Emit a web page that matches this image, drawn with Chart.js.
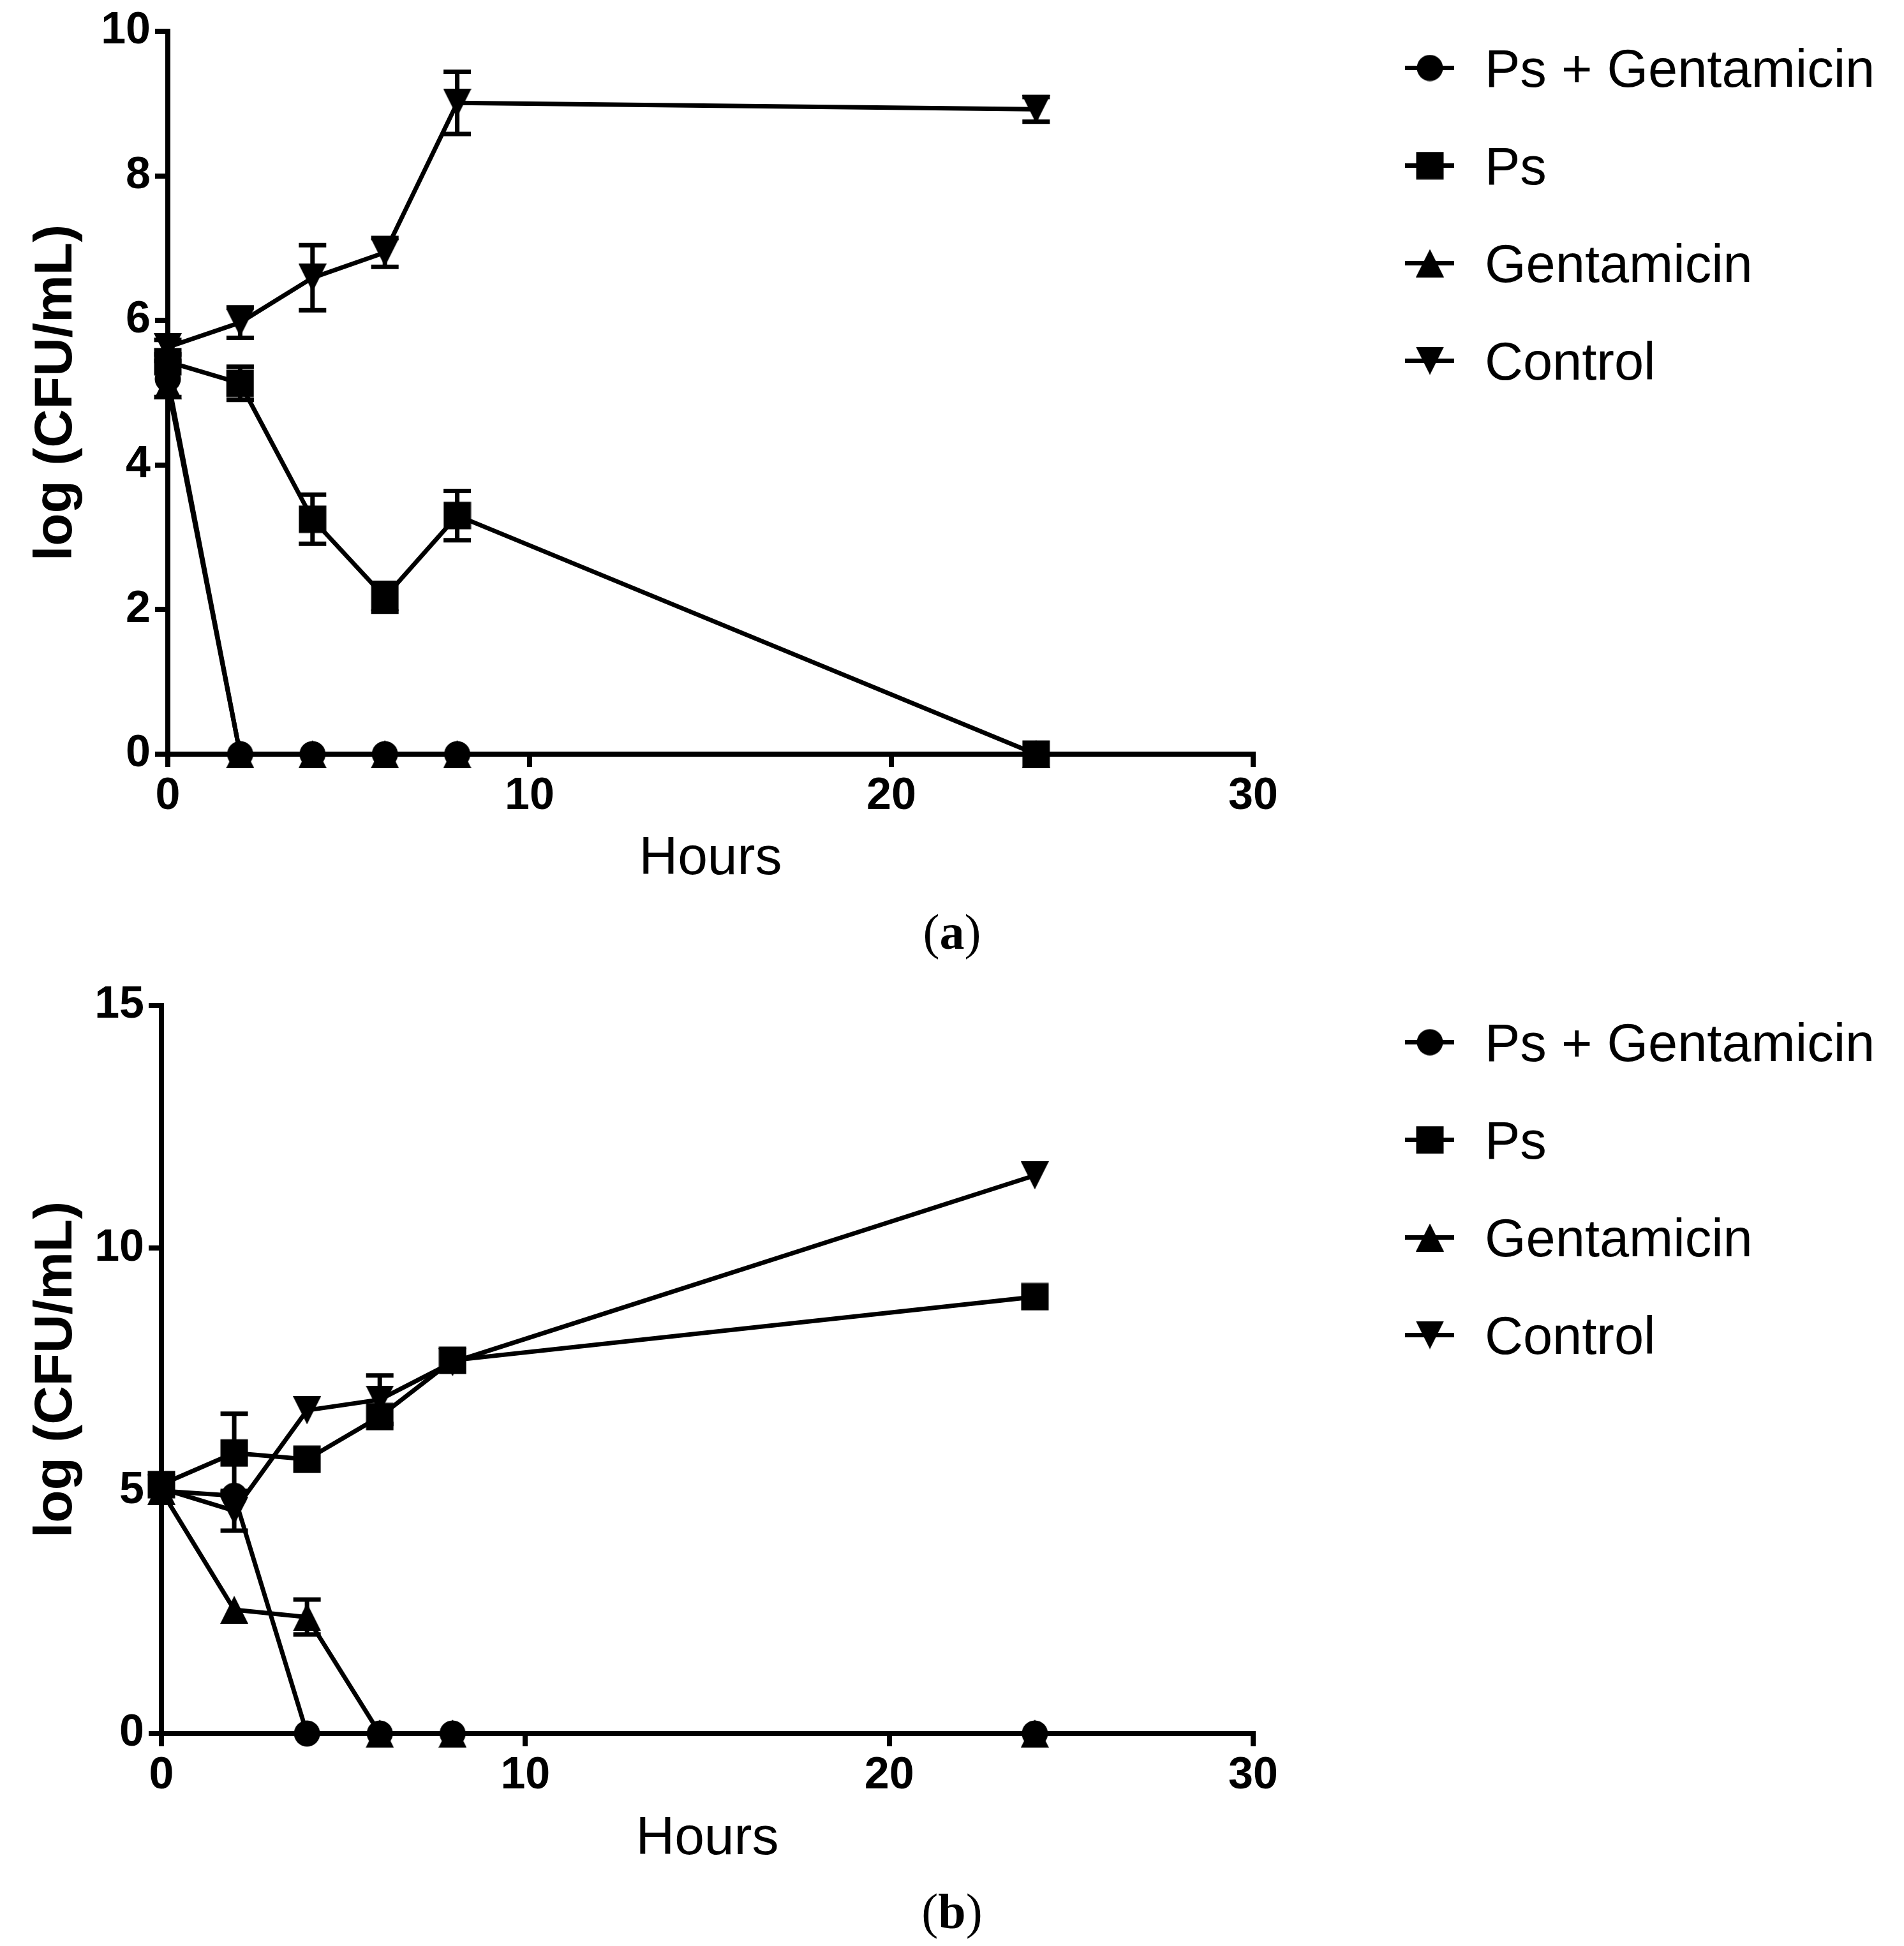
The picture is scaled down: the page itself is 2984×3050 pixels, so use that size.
<!DOCTYPE html>
<html>
<head>
<meta charset="utf-8">
<script src="https://cdn.jsdelivr.net/npm/chart.js@4.4.1/dist/chart.umd.min.js"></script>
<style>
  html, body { margin: 0; padding: 0; background: #fff; }
  body { width: 2984px; height: 3050px; position: relative; overflow: hidden; }
  canvas { position: absolute; left: 0; display: block; }
  #cA { top: 0; }
  #cB { top: 1525px; }
</style>
</head>
<body>
<canvas id="cA" width="2984" height="1525"></canvas>
<canvas id="cB" width="2984" height="1525"></canvas>
<script>
// ---------- DATA ----------
const hours = [0, 2, 4, 6, 8, 24];
const seriesNames = ['Ps + Gentamicin', 'Ps', 'Gentamicin', 'Control'];
const xTicks = [0, 10, 20, 30];
const yTicksA = [0, 2, 4, 6, 8, 10];
const yTicksB = [0, 5, 10, 15];
const xTitle = 'Hours';
const yTitle = 'log (CFU/mL)';
const captionA = 'a';
const captionB = 'b';

// Panel (a)
const psGentA      = [5.19, 0, 0, 0, 0, 0];
const psGentErrA   = [0.25, 0, 0, 0, 0, 0];
const psA          = [5.43, 5.13, 3.25, 2.17, 3.30, 0];
const psErrA       = [0, 0.23, 0.34, 0.20, 0.34, 0];
const gentA        = [5.10, 0, 0, 0, 0, 0];
const gentErrA     = [0, 0, 0, 0, 0, 0];
const controlA     = [5.63, 5.97, 6.59, 6.94, 9.01, 8.92];
const controlErrA  = [0.10, 0.21, 0.45, 0.20, 0.43, 0.17];

// Panel (b)
const psGentB      = [5.00, 4.90, 0, 0, 0, 0];
const psGentErrB   = [0, 0, 0, 0, 0, 0];
const psB          = [5.13, 5.78, 5.65, 6.53, 7.69, 9.00];
const psErrB       = [0, 0.81, 0, 0, 0, 0];
const gentB        = [5.00, 2.55, 2.40, 0, 0, 0];
const gentErrB     = [0, 0, 0.36, 0, 0, 0];
const controlB     = [5.05, 4.59, 6.66, 6.88, 7.65, 11.50];
const controlErrB  = [0, 0.41, 0, 0.50, 0, 0];

// ---------- MARKERS ----------
function makeMarker(kind) {
  const c = document.createElement('canvas');
  const w = kind === 'circle' ? 42 : 44;
  const h = kind === 'circle' ? 42 : 44;
  c.width = w; c.height = h;
  const g = c.getContext('2d');
  g.fillStyle = '#000';
  g.beginPath();
  if (kind === 'circle') {
    g.arc(w / 2, h / 2, 20.5, 0, Math.PI * 2);
  } else if (kind === 'square') {
    g.rect(0.5, 0.5, w - 1, h - 1);
  } else if (kind === 'up') {
    g.moveTo(w / 2, 0); g.lineTo(w, h); g.lineTo(0, h); g.closePath();
  } else {
    g.moveTo(0, 0); g.lineTo(w, 0); g.lineTo(w / 2, h); g.closePath();
  }
  g.fill();
  return c;
}
const markers = [makeMarker('circle'), makeMarker('square'), makeMarker('up'), makeMarker('down')];
const drawOrder = [2, 1, 3, 4]; // lower = on top

const FONT_SANS = "'Liberation Sans', Arial, Helvetica, sans-serif";
const FONT_SERIF = "'Liberation Serif', 'Times New Roman', serif";

// ---------- PLUGINS ----------
const errorBarPlugin = {
  id: 'errorBars',
  afterDatasetsDraw(chart) {
    const ctx = chart.ctx;
    const xs = chart.scales.x, ys = chart.scales.y;
    ctx.save();
    ctx.strokeStyle = '#000';
    ctx.lineWidth = 7;
    ctx.lineCap = 'butt';
    chart.data.datasets.forEach((ds) => {
      const errs = ds.errorBars || [];
      ds.data.forEach((pt, i) => {
        const e = errs[i];
        if (!e) return;
        const px = xs.getPixelForValue(pt.x);
        const yTop = ys.getPixelForValue(pt.y + e);
        const yBot = ys.getPixelForValue(pt.y - e);
        const half = 21.5;
        ctx.beginPath();
        ctx.moveTo(px, yTop); ctx.lineTo(px, yBot);
        ctx.moveTo(px - half, yTop); ctx.lineTo(px + half, yTop);
        ctx.moveTo(px - half, yBot); ctx.lineTo(px + half, yBot);
        ctx.stroke();
      });
    });
    ctx.restore();
  }
};

const legendCaptionPlugin = {
  id: 'legendCaption',
  afterDraw(chart, args, opts) {
    const ctx = chart.ctx;
    const area = chart.chartArea;
    ctx.save();
    // legend
    const lineX1 = 2202, lineX2 = 2279, markX = 2241, textX = 2327;
    const firstRow = area.top + 57.5, rowGap = 153;
    ctx.font = '83px ' + FONT_SANS;
    ctx.fillStyle = '#000';
    ctx.textBaseline = 'alphabetic';
    ctx.textAlign = 'left';
    chart.data.datasets.forEach((ds, i) => {
      const y = firstRow + i * rowGap;
      ctx.strokeStyle = '#000';
      ctx.lineWidth = 7;
      ctx.beginPath();
      ctx.moveTo(lineX1, y); ctx.lineTo(lineX2, y);
      ctx.stroke();
      const m = ds.pointStyle;
      ctx.drawImage(m, markX - m.width / 2, y - m.height / 2);
      ctx.fillText(ds.label, textX, y + 83 * 0.358);
    });
    // caption "(a)" / "(b)"
    const cy = area.bottom + 285;
    const cx = 1492;
    const normal = '78px ' + FONT_SERIF;
    const bold = 'bold 78px ' + FONT_SERIF;
    ctx.font = normal; const wL = ctx.measureText('(').width; const wR = ctx.measureText(')').width;
    ctx.font = bold; const wM = ctx.measureText(opts.caption).width;
    const total = wL + wM + wR;
    let x0 = cx - total / 2;
    ctx.textBaseline = 'middle';
    ctx.font = normal; ctx.fillText('(', x0, cy);
    ctx.font = bold; ctx.fillText(opts.caption, x0 + wL, cy);
    ctx.font = normal; ctx.fillText(')', x0 + wL + wM, cy);
    ctx.restore();
  }
};

// ---------- BUILD ----------
function pts(vals) { return hours.map((h, i) => ({ x: h, y: vals[i] })); }

function makeChart(canvasId, series, errs, yTicks, geom, caption) {
  const datasets = series.map((vals, i) => ({
    label: seriesNames[i],
    data: pts(vals),
    errorBars: errs[i],
    borderColor: '#000',
    backgroundColor: '#000',
    borderWidth: 7,
    tension: 0,
    pointStyle: markers[i],
    pointRadius: 22,
    pointHoverRadius: 22,
    clip: false,
    order: drawOrder[i]
  }));
  return new Chart(document.getElementById(canvasId), {
    type: 'line',
    data: { datasets },
    options: {
      responsive: false,
      devicePixelRatio: 1,
      animation: false,
      events: [],
      layout: { padding: { left: geom.padLeft, right: geom.padRight, top: geom.padTop, bottom: geom.padBottom } },
      plugins: {
        legend: { display: false },
        tooltip: { enabled: false },
        legendCaption: { caption }
      },
      scales: {
        x: {
          type: 'linear',
          min: xTicks[0], max: xTicks[xTicks.length - 1],
          afterBuildTicks: s => { s.ticks = xTicks.map(v => ({ value: v })); },
          afterFit: s => { s.height = geom.xH; },
          border: { display: true, color: '#000', width: 8 },
          grid: { drawOnChartArea: false, drawTicks: true, tickLength: 20, tickWidth: 8, tickColor: '#000', lineWidth: 8, color: '#000' },
          ticks: { color: '#000', padding: 5, maxRotation: 0, font: { family: FONT_SANS, size: 70, weight: 'bold' } },
          title: { display: true, text: xTitle, color: '#000', padding: { top: 0, bottom: 0 }, font: { family: FONT_SANS, size: 84, weight: 'normal' } }
        },
        y: {
          type: 'linear',
          min: yTicks[0], max: yTicks[yTicks.length - 1],
          afterBuildTicks: s => { s.ticks = yTicks.map(v => ({ value: v })); },
          afterFit: s => { s.width = geom.yW; },
          border: { display: true, color: '#000', width: 8 },
          grid: { drawOnChartArea: false, drawTicks: true, tickLength: 20, tickWidth: 8, tickColor: '#000', lineWidth: 8, color: '#000' },
          ticks: { color: '#000', padding: 7, font: { family: FONT_SANS, size: 70, weight: 'bold' } },
          title: { display: true, text: yTitle, color: '#000', padding: { top: 18, bottom: 0 }, font: { family: FONT_SANS, size: 84, weight: 'bold' } }
        }
      }
    },
    plugins: [errorBarPlugin, legendCaptionPlugin]
  });
}

makeChart('cA',
  [psGentA, psA, gentA, controlA],
  [psGentErrA, psErrA, gentErrA, controlErrA],
  yTicksA,
  { padLeft: 20, yW: 243, padRight: 2984 - 1964, padTop: 47, xH: 215, padBottom: 128 },
  captionA);

makeChart('cB',
  [psGentB, psB, gentB, controlB],
  [psGentErrB, psErrB, gentErrB, controlErrB],
  yTicksB,
  { padLeft: 20, yW: 233, padRight: 2984 - 1964, padTop: 51, xH: 216, padBottom: 117 },
  captionB);
</script>
</body>
</html>
